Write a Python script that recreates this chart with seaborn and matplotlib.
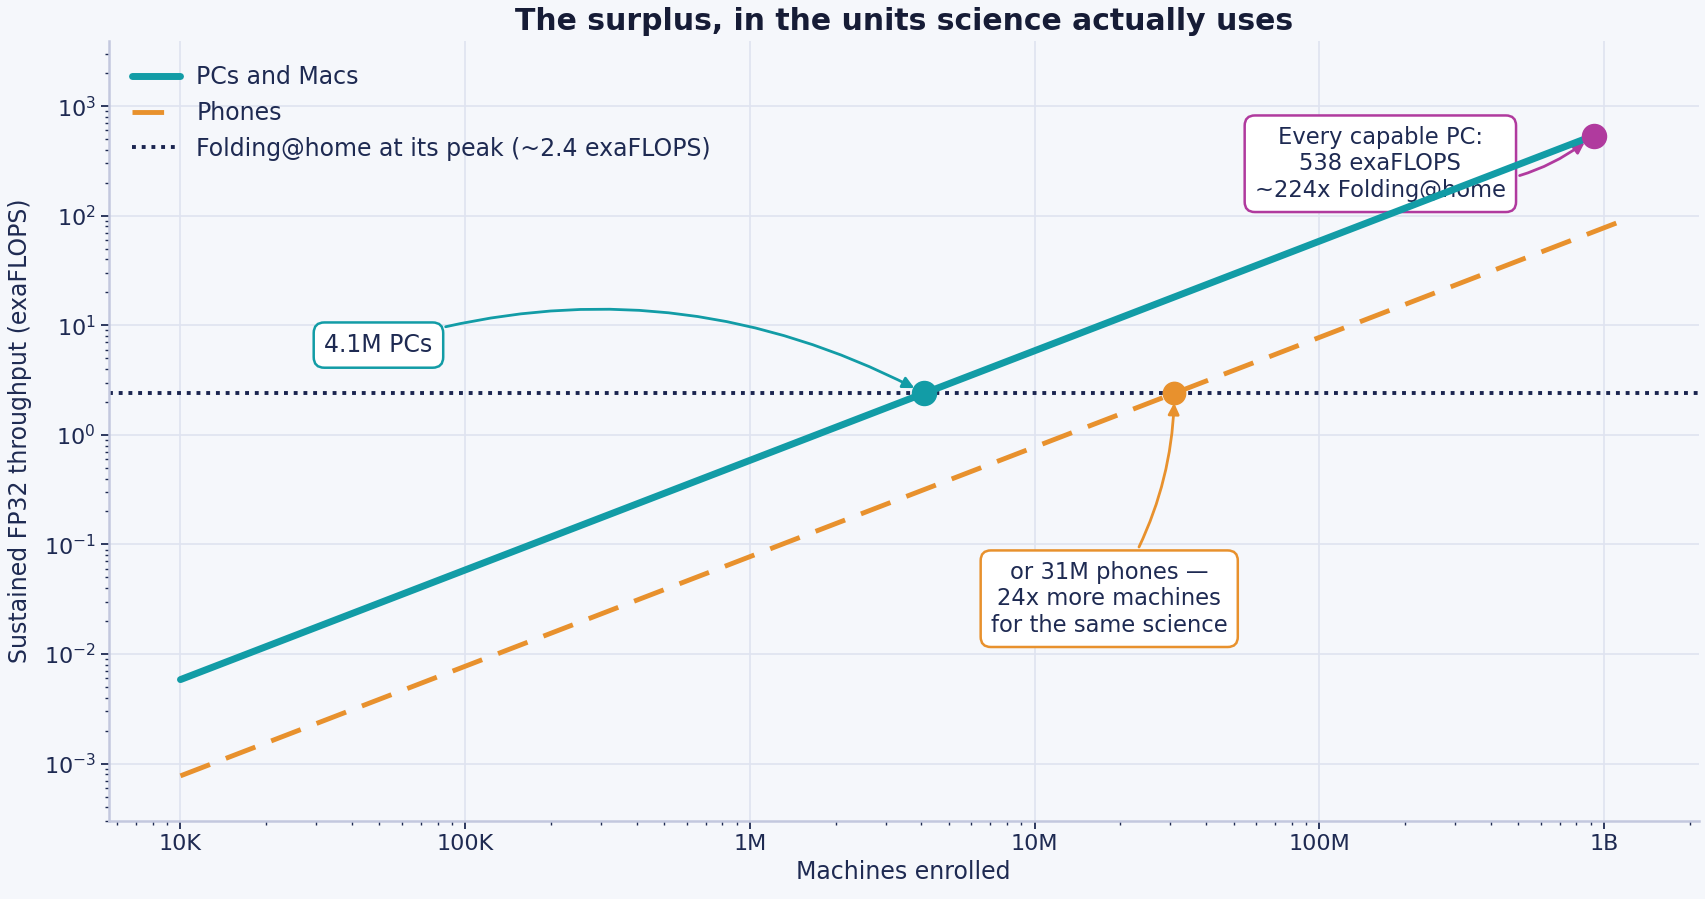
import numpy as np
import pandas as pd
import matplotlib
matplotlib.use('Agg')
import matplotlib.pyplot as plt
import matplotlib.ticker as mticker
import seaborn as sns

# values
pc_machines = [1e4, 4.1e6, 9.2e8]
pc_exaflops = [0.00585, 2.4, 538]
phone_machines = [1e4, 3.1e7, 1.2e9]
phone_exaflops = [0.000774, 2.4, 93]
folding_peak = 2.4
x_ticks = [1e4, 1e5, 1e6, 1e7, 1e8, 1e9]
x_tick_labels = ['10K', '100K', '1M', '10M', '100M', '1B']
y_ticks = [1e-3, 1e-2, 1e-1, 1e0, 1e1, 1e2, 1e3]

teal = '#129ca6'
orange = '#e8912d'
navy = '#1b2550'
purple = '#b03a9e'
ink = '#1e2a52'
bg = '#f5f7fb'

sns.set_theme(style='whitegrid')
plt.rcParams['font.family'] = ['DejaVu Sans']
plt.rcParams['axes.facecolor'] = bg
plt.rcParams['figure.facecolor'] = bg
plt.rcParams['grid.color'] = '#dfe3f0'
plt.rcParams['text.color'] = ink

pcs = pd.DataFrame({'machines': pc_machines, 'exaflops': pc_exaflops})
phones = pd.DataFrame({'machines': phone_machines, 'exaflops': phone_exaflops})

fig = plt.figure(figsize=(17.05, 8.99), dpi=100)
ax = fig.add_axes([0.0638, 0.0868, 0.9324, 0.8672])
ax.set_xscale('log')
ax.set_yscale('log')

sns.lineplot(data=pcs, x='machines', y='exaflops', color=teal, lw=5,
             label='PCs and Macs', ax=ax, zorder=3)
sns.lineplot(data=phones, x='machines', y='exaflops', color=orange, lw=3.5,
             label='Phones', ax=ax, zorder=2)
ax.lines[1].set_dashes([6.5, 3.5])
ax.axhline(folding_peak, color=navy, lw=2.8, ls=(0, (1, 1.5)),
           label='Folding@home at its peak (~2.4 exaFLOPS)', zorder=2)

# highlighted points
ax.scatter([pc_machines[1]], [pc_exaflops[1]], s=300, color=teal, zorder=5)
ax.scatter([phone_machines[1]], [phone_exaflops[1]], s=260, color=orange, zorder=5)
ax.scatter([pc_machines[2]], [pc_exaflops[2]], s=300, color=purple, zorder=5)

box = dict(boxstyle='round,pad=0.45', fc='white', lw=1.8)
ax.annotate('4.1M PCs', xy=(pc_machines[1], pc_exaflops[1]), xytext=(4.96e4, 6.6),
            ha='center', va='center', fontsize=17, color=ink,
            bbox={**box, 'ec': teal},
            arrowprops=dict(arrowstyle='-|>', color=teal, lw=2,
                            connectionstyle='arc3,rad=-0.21', shrinkB=8), zorder=6)
ax.annotate('or 31M phones —\n24x more machines\nfor the same science',
            xy=(phone_machines[1], phone_exaflops[1]), xytext=(1.83e7, 0.032),
            ha='center', va='center', fontsize=16.3, color=ink,
            bbox={**box, 'ec': orange},
            arrowprops=dict(arrowstyle='-|>', color=orange, lw=2,
                            connectionstyle='arc3,rad=0.15', shrinkB=7), zorder=6)
ax.annotate('Every capable PC:\n538 exaFLOPS\n~224x Folding@home',
            xy=(pc_machines[2], pc_exaflops[2]), xytext=(1.64e8, 298),
            ha='center', va='center', fontsize=16.3, color=ink,
            bbox={**box, 'ec': purple},
            arrowprops=dict(arrowstyle='-|>', color=purple, lw=2,
                            connectionstyle='arc3,rad=0.3', shrinkB=8), zorder=2.5)

ax.set_xlim(5600, 2.15e9)
ax.set_ylim(3e-4, 3900)
ax.set_xticks(x_ticks)
ax.set_xticklabels(x_tick_labels)
ax.set_yticks(y_ticks)
ax.xaxis.set_minor_locator(mticker.LogLocator(base=10, subs=np.arange(2, 10)))
ax.xaxis.set_minor_formatter(mticker.NullFormatter())
ax.yaxis.set_minor_locator(mticker.LogLocator(base=10, subs=np.arange(2, 10), numticks=20))
ax.yaxis.set_minor_formatter(mticker.NullFormatter())
ax.grid(True, which='major', color='#dfe3f0', lw=1.2)
ax.grid(False, which='minor')

for side in ['top', 'right']:
    ax.spines[side].set_visible(False)
for side in ['left', 'bottom']:
    ax.spines[side].set_color('#c3c8de')
    ax.spines[side].set_linewidth(1.8)
ax.tick_params(axis='both', which='major', labelsize=16, colors=ink, length=6,
               width=1.3, bottom=True, left=True)
ax.tick_params(axis='both', which='minor', length=3, width=1, colors=ink,
               bottom=True, left=True)

ax.set_xlabel('Machines enrolled', fontsize=17, color=ink)
ax.set_ylabel('Sustained FP32 throughput (exaFLOPS)', fontsize=17, color=ink,
              labelpad=8)
ax.set_title('The surplus, in the units science actually uses', fontsize=21.5,
             fontweight='bold', color='#161c36', pad=8)

leg = ax.legend(loc='upper left', frameon=False, fontsize=17, handlelength=2.0,
                handletextpad=0.7, borderaxespad=0.6)
for t in leg.get_texts():
    t.set_color(ink)

fig.savefig('out.png', dpi=100, facecolor=bg)
